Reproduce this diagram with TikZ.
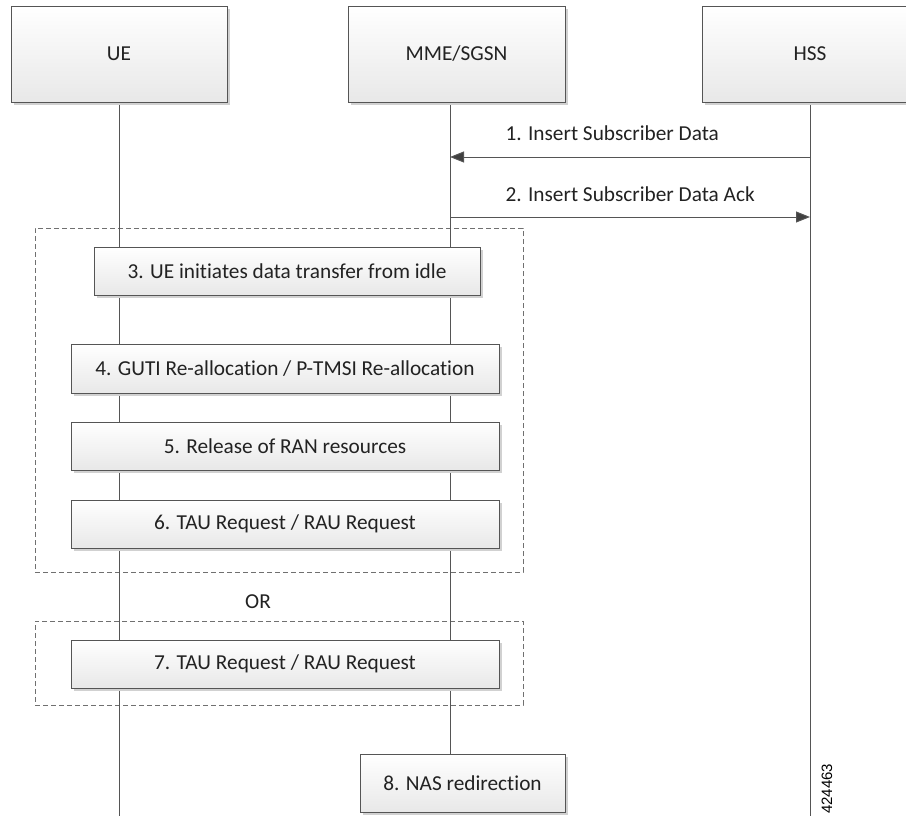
\documentclass[tikz,border=0pt]{standalone}
\usepackage{fontspec}
\setmainfont{Carlito}[Ligatures=NoCommon]
\newfontfamily\numfont{Liberation Sans}
\usetikzlibrary{arrows.meta,shadows}
\definecolor{edgegray}{HTML}{555555}
\definecolor{txtgray}{HTML}{222222}
\definecolor{tipgray}{HTML}{404040}
\definecolor{dashgray}{HTML}{707070}
\begin{document}
\begin{tikzpicture}[x=1pt,y=-1pt,
  every node/.style={text=txtgray},
  lbl/.style={font=\fontsize{21.3}{24}\selectfont},
  actor/.style={draw=edgegray, line width=0.9pt, top color=white, bottom color=black!9,
    minimum width=216pt, minimum height=96pt, inner sep=0pt,
    font=\fontsize{21.3}{24}\selectfont,
    drop shadow={shadow xshift=3pt, shadow yshift=-3pt, fill=black!18, opacity=1}},
  pbox/.style={draw=edgegray, line width=0.9pt, top color=white, bottom color=black!9,
    minimum height=48pt, inner sep=0pt,
    font=\fontsize{21.3}{24}\selectfont,
    drop shadow={shadow xshift=3pt, shadow yshift=-3pt, fill=black!18, opacity=1}},
  life/.style={draw=edgegray, line width=0.9pt},
  msg/.style={draw=edgegray, line width=1pt, -{Triangle[length=14pt,width=11pt,fill=tipgray]}},
  grp/.style={draw=dashgray, line width=1pt, dash pattern=on 5pt off 3pt},
]
\useasboundingbox (0,0) rectangle (906,816);

% lifeline coordinates
\coordinate (uetop) at (119,102);
\coordinate (uebot) at (119,816);
\coordinate (mtop) at (450,102);
\coordinate (mbot) at (450,754);
\coordinate (htop) at (810,102);
\coordinate (hbot) at (810,816);

% dashed groups
\node[grp, minimum width=488pt, minimum height=344pt, inner sep=0pt] (g1) at (279,400) {};
\node[grp, minimum width=488pt, minimum height=84pt, inner sep=0pt] (g2) at (279,663) {};

% lifelines
\draw[life] (uetop) -- (uebot);
\draw[life] (mtop) -- (mbot);
\draw[life] (htop) -- (hbot);

% actors
\node[actor] (ue) at (119,54) {UE};
\node[actor, minimum width=217pt] (mme) at (456.5,54) {MME/SGSN};
\node[actor] (hss) at (810,54) {HSS};

% messages
\coordinate (a1s) at (810,157);
\coordinate (a1e) at (450,157);
\coordinate (a2s) at (450,217);
\coordinate (a2e) at (810,217);
\draw[msg] (a1s) -- (a1e);
\draw[msg] (a2s) -- (a2e);
\node[lbl, anchor=west] (l1) at (502,133) {1. Insert Subscriber Data};
\node[lbl, anchor=west] (l2) at (502,194) {2. Insert Subscriber Data Ack};

% process boxes
\node[pbox, minimum width=386pt] (b3) at (287,271) {3. UE initiates data transfer from idle};
\node[pbox, minimum width=428pt, minimum height=49pt] (b4) at (285,368.5) {4. GUTI Re-allocation / P-TMSI Re-allocation};
\node[pbox, minimum width=428pt] (b5) at (285,446) {5. Release of RAN resources};
\node[pbox, minimum width=428pt] (b6) at (285,524) {6. TAU Request / RAU Request};
\node[lbl] (or) at (258,602) {OR};
\node[pbox, minimum width=428pt] (b7) at (285,664) {7. TAU Request / RAU Request};
\node[pbox, minimum width=205pt, minimum height=58pt] (b8) at (462.5,783) {8. NAS redirection};

% figure number
\node[rotate=90, anchor=west, inner sep=0pt, text=black, font=\numfont\fontsize{15}{17}\selectfont] (fig) at (827,814) {424463};
\end{tikzpicture}
\end{document}
